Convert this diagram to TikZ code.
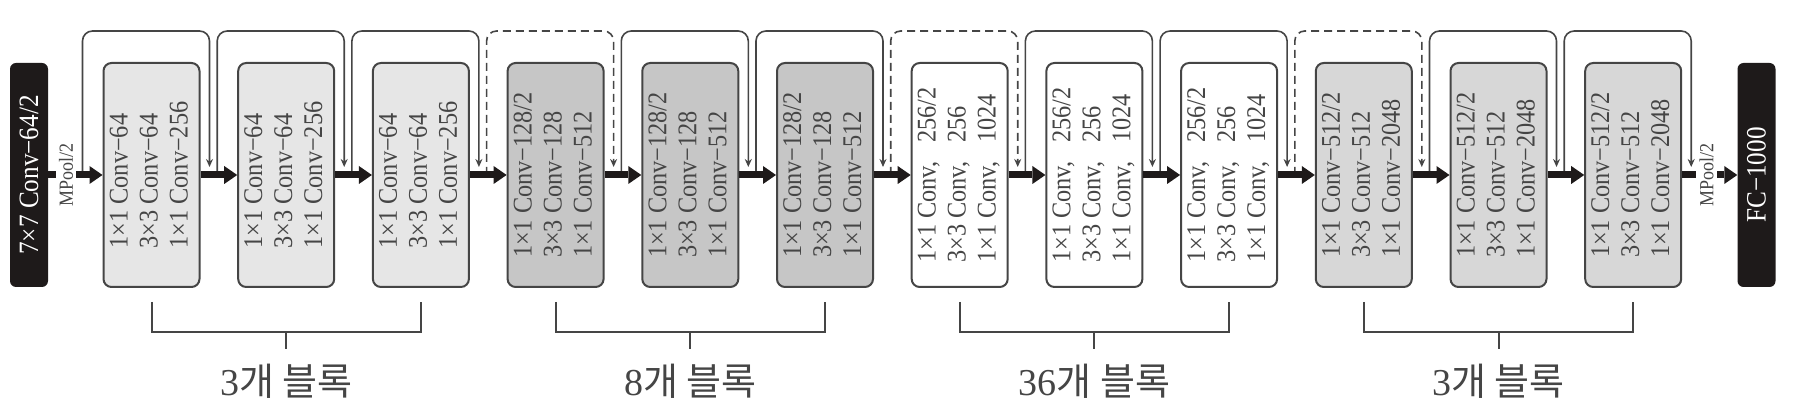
\documentclass[tikz,border=0pt]{standalone}
\usepackage{fontspec}
\setmainfont{Liberation Serif}
\newfontfamily\condfont{Liberation Serif}[FakeStretch=0.9]
\newfontfamily\kofont{Noto Sans CJK KR}
\usetikzlibrary{arrows.meta, positioning}
\definecolor{lightgrey}{HTML}{E6E6E6}
\definecolor{midgrey}{HTML}{C6C6C6}
\definecolor{softgrey}{HTML}{D7D7D7}
\definecolor{inkgrey}{HTML}{454545}
\definecolor{darkbox}{HTML}{1E1A1A}
\newcommand{\convtext}[3]{\rotatebox{90}{\begin{tabular}{@{}l@{}}#1\\#2\\#3\end{tabular}}}

\begin{document}
\begin{tikzpicture}[
  x=1pt, y=1pt,
  resblock/.style={rectangle, draw=inkgrey, line width=2pt, rounded corners=8pt, minimum width=96pt, minimum height=224pt, inner sep=0pt, fill=#1, text=inkgrey, font=\condfont\fontsize{27}{30}\selectfont},
  endblock/.style={rectangle, fill=darkbox, rounded corners=6pt, minimum width=38pt, minimum height=224pt, inner sep=0pt, text=white, font=\condfont\fontsize{28}{30}\selectfont},
  mainarrow/.style={-{Triangle[length=13pt, width=18pt, line width=0pt]}, line width=7pt, color=darkbox},
  shortcut/.style={-{Stealth[length=8pt, width=7pt]}, line width=1.6pt, color=inkgrey, rounded corners=10pt},
  pool/.style={fill=white, rotate=90, inner sep=3pt, text=inkgrey, font=\condfont\fontsize{20}{20}\selectfont},
  brace/.style={line width=2pt, color=inkgrey},
  grp/.style={inner xsep=2pt, inner ysep=15pt, text=inkgrey, font=\fontsize{38}{42}\selectfont}
]
\useasboundingbox (0,0) rectangle (1796,412);

% Stem and classifier
\node[endblock] (stem) at (29,237) {\rotatebox{90}{7×7 Conv−64/2}};
\node[endblock] (fc) at (1756.5,237) {\rotatebox{90}{FC−1000}};

% Stage 1
\node[resblock=lightgrey] (b1) at (151.5,237) {\convtext{1×1 Conv−64}{3×3 Conv−64}{1×1 Conv−256}};
\node[resblock=lightgrey] (b2) at (286.2,237) {\convtext{1×1 Conv−64}{3×3 Conv−64}{1×1 Conv−256}};
\node[resblock=lightgrey] (b3) at (420.9,237) {\convtext{1×1 Conv−64}{3×3 Conv−64}{1×1 Conv−256}};

% Stage 2
\node[resblock=midgrey] (b4) at (555.6,237) {\convtext{1×1 Conv−128/2}{3×3 Conv−128}{1×1 Conv−512}};
\node[resblock=midgrey] (b5) at (690.3,237) {\convtext{1×1 Conv−128/2}{3×3 Conv−128}{1×1 Conv−512}};
\node[resblock=midgrey] (b6) at (825.0,237) {\convtext{1×1 Conv−128/2}{3×3 Conv−128}{1×1 Conv−512}};

% Stage 3
\node[resblock=white] (b7) at (959.7,237) {\convtext{1×1 Conv,\hspace{.7em}256/2}{3×3 Conv,\hspace{.7em}256}{1×1 Conv,\hspace{.7em}1024}};
\node[resblock=white] (b8) at (1094.4,237) {\convtext{1×1 Conv,\hspace{.7em}256/2}{3×3 Conv,\hspace{.7em}256}{1×1 Conv,\hspace{.7em}1024}};
\node[resblock=white] (b9) at (1229.1,237) {\convtext{1×1 Conv,\hspace{.7em}256/2}{3×3 Conv,\hspace{.7em}256}{1×1 Conv,\hspace{.7em}1024}};

% Stage 4
\node[resblock=softgrey] (b10) at (1363.8,237) {\convtext{1×1 Conv−512/2}{3×3 Conv−512}{1×1 Conv−2048}};
\node[resblock=softgrey] (b11) at (1498.5,237) {\convtext{1×1 Conv−512/2}{3×3 Conv−512}{1×1 Conv−2048}};
\node[resblock=softgrey] (b12) at (1633.2,237) {\convtext{1×1 Conv−512/2}{3×3 Conv−512}{1×1 Conv−2048}};

% Shortcut connections (dashed where the size changes)
\draw[shortcut] ([xshift=-20pt]b1.west) -- ++(0,144) -| ([xshift=9pt,yshift=8pt]b1.east);
\draw[shortcut] ([xshift=-20pt]b2.west) -- ++(0,144) -| ([xshift=9pt,yshift=8pt]b2.east);
\draw[shortcut] ([xshift=-20pt]b3.west) -- ++(0,144) -| ([xshift=9pt,yshift=8pt]b3.east);
\draw[shortcut, dash pattern=on 8pt off 5pt] ([xshift=-20pt]b4.west) -- ++(0,144) -| ([xshift=9pt,yshift=8pt]b4.east);
\draw[shortcut] ([xshift=-20pt]b5.west) -- ++(0,144) -| ([xshift=9pt,yshift=8pt]b5.east);
\draw[shortcut] ([xshift=-20pt]b6.west) -- ++(0,144) -| ([xshift=9pt,yshift=8pt]b6.east);
\draw[shortcut, dash pattern=on 8pt off 5pt] ([xshift=-20pt]b7.west) -- ++(0,144) -| ([xshift=9pt,yshift=8pt]b7.east);
\draw[shortcut] ([xshift=-20pt]b8.west) -- ++(0,144) -| ([xshift=9pt,yshift=8pt]b8.east);
\draw[shortcut] ([xshift=-20pt]b9.west) -- ++(0,144) -| ([xshift=9pt,yshift=8pt]b9.east);
\draw[shortcut, dash pattern=on 8pt off 5pt] ([xshift=-20pt]b10.west) -- ++(0,144) -| ([xshift=9pt,yshift=8pt]b10.east);
\draw[shortcut] ([xshift=-20pt]b11.west) -- ++(0,144) -| ([xshift=9pt,yshift=8pt]b11.east);
\draw[shortcut] ([xshift=-20pt]b12.west) -- ++(0,144) -| ([xshift=9pt,yshift=8pt]b12.east);

% Main path
\draw[mainarrow] (stem) -- node[pool, pos=0.33] {MPool/2} (b1);
\draw[mainarrow] (b1) -- (b2);
\draw[mainarrow] (b2) -- (b3);
\draw[mainarrow] (b3) -- (b4);
\draw[mainarrow] (b4) -- (b5);
\draw[mainarrow] (b5) -- (b6);
\draw[mainarrow] (b6) -- (b7);
\draw[mainarrow] (b7) -- (b8);
\draw[mainarrow] (b8) -- (b9);
\draw[mainarrow] (b9) -- (b10);
\draw[mainarrow] (b10) -- (b11);
\draw[mainarrow] (b11) -- (b12);
\draw[mainarrow] (b12) -- node[pool, pos=0.44] {MPool/2} (fc);

% Stage brackets
\node[grp, anchor=base] (g1) at (286.2,16) {3\kofont 개 블록};
\node[grp, anchor=base] (g2) at (690.3,16) {8\kofont 개 블록};
\node[grp, anchor=base] (g3) at (1094.4,16) {36\kofont 개 블록};
\node[grp, anchor=base] (g4) at (1498.5,16) {3\kofont 개 블록};

\draw[brace] ([yshift=-14pt]b1.south) |- ([yshift=-44pt]b3.south) -- ([yshift=-14pt]b3.south);
\draw[brace] ([yshift=-44pt]b2.south) -- (g1.north);
\draw[brace] ([yshift=-14pt]b4.south) |- ([yshift=-44pt]b6.south) -- ([yshift=-14pt]b6.south);
\draw[brace] ([yshift=-44pt]b5.south) -- (g2.north);
\draw[brace] ([yshift=-14pt]b7.south) |- ([yshift=-44pt]b9.south) -- ([yshift=-14pt]b9.south);
\draw[brace] ([yshift=-44pt]b8.south) -- (g3.north);
\draw[brace] ([yshift=-14pt]b10.south) |- ([yshift=-44pt]b12.south) -- ([yshift=-14pt]b12.south);
\draw[brace] ([yshift=-44pt]b11.south) -- (g4.north);

\end{tikzpicture}
\end{document}
